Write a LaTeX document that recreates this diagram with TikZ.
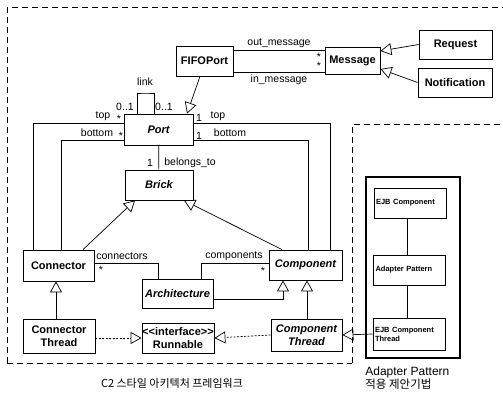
\documentclass[tikz,border=0pt]{standalone}
\usepackage{fontspec}
\setmainfont{Liberation Sans}
\newfontfamily\kr{Noto Sans CJK KR}
\usetikzlibrary{arrows.meta}
\tikzset{
cls/.style={draw,line width=0.8pt,align=center,inner sep=0pt,font=\fontsize{11}{12.5}\selectfont\bfseries},
abst/.style={cls,font=\fontsize{11}{12.5}\selectfont\bfseries\itshape},
ejbbox/.style={draw,line width=0.8pt,align=left,inner sep=2pt,text width=68pt,font=\fontsize{7.5}{9}\selectfont\bfseries},
lbl/.style={inner sep=0pt,font=\fontsize{10.5}{12}\selectfont},
gen/.style={-{Triangle[open,length=11pt,width=12pt]}},
real/.style={gen,dash pattern=on 2pt off 1.5pt},
region/.style={line width=1pt,dash pattern=on 6pt off 4pt}
}
\begin{document}
\begin{tikzpicture}[x=1pt,y=-1pt,line width=0.7pt]
\useasboundingbox (0,0) rectangle (503,395);
\draw[region] (7,363) -- (7,8) -- (503,8);
\draw[region] (7,363) -- (352,363);
\draw[region] (352,363) -- (352,125) -- (503,125);
\node[cls,minimum width=57,minimum height=30] (fifo) at (204.5,61) {FIFOPort};
\node[cls,minimum width=55,minimum height=27] (msg) at (352.5,60.5) {Message};
\node[cls,minimum width=73,minimum height=29] (req) at (455.5,44.5) {Request};
\node[cls,minimum width=74,minimum height=29] (notif) at (455,82.5) {Notification};
\node[abst,minimum width=69,minimum height=31] (port) at (158.5,129.5) {Port};
\node[abst,minimum width=68,minimum height=30] (brick) at (159,185) {Brick};
\node[cls,minimum width=71,minimum height=31] (conn) at (58.5,265.5) {Connector};
\node[cls,minimum width=72,minimum height=34] (connth) at (59,336) {Connector\\Thread};
\node[abst,minimum width=71,minimum height=29] (arch) at (177.5,293.5) {Architecture};
\node[cls,minimum width=72,minimum height=30] (run) at (178,338) {{<}{<}interface{>}{>}\\Runnable};
\node[abst,minimum width=73,minimum height=30] (comp) at (305.5,265) {Component};
\node[abst,minimum width=71,minimum height=32] (compth) at (306.5,335) {Component\\Thread};
\draw[line width=2pt] (366,177) rectangle (460,358);
\node[ejbbox,minimum height=30] (ejb) at (410,203) {EJB Component};
\node[ejbbox,minimum height=30] (adapt) at (409.5,270) {Adapter Pattern};
\node[ejbbox,minimum height=32] (ejbth) at (409,334) {EJB Component\\Thread};
\draw (fifo.east |- 0,50) -- node[lbl,above=2pt] {out\_message} (msg.west |- 0,50);
\draw (fifo.east |- 0,72) -- node[lbl,below=3pt] {in\_message} (msg.west |- 0,72);
\node[lbl] at (319,57) {*};
\node[lbl] at (319,66) {*};
\draw[gen] (req.west) -- (msg.east |- 0,51);
\draw[gen] (notif.west) -- (msg.east |- 0,69);
\draw[gen] (fifo.south -| 200,0) -- (port.north -| 187,0);
\draw (port.north -| 137,0) |- (145,93) -| (port.north -| 154,0);
\node[lbl] at (145,82) {link};
\node[lbl] at (125,107) {0..1};
\node[lbl] at (164,107) {0..1};
\draw (port.west |- 0,123) -| (conn.north -| 33,0);
\draw (port.west |- 0,140) -| (conn.north -| 61,0);
\node[lbl] at (103,116) {top};
\node[lbl] at (119,119) {*};
\node[lbl] at (97,133) {bottom};
\node[lbl] at (121,136) {*};
\draw (port.east |- 0,123) -| (comp.north -| 330,0);
\draw (port.east |- 0,140) -| (comp.north -| 308,0);
\node[lbl] at (199,118) {1};
\node[lbl] at (218,116) {top};
\node[lbl] at (199,136) {1};
\node[lbl] at (230,133) {bottom};
\draw (port) -- (brick);
\node[lbl] at (150,163) {1};
\node[lbl,anchor=west] at (164,163) {belongs\_to};
\draw[gen] (conn.north -| 83,0) -- (brick.south -| 135,0);
\draw[gen] (comp.north -| 282,0) -- (brick.south -| 184,0);
\draw (conn.east |- 0,263) -| (arch.north -| 158,0);
\node[lbl,anchor=west] at (96,256) {connectors};
\node[lbl] at (101,270) {*};
\draw (comp.west |- 0,263) -| (arch.north -| 201,0);
\node[lbl] at (234,256) {components};
\node[lbl] at (263,271) {*};
\draw[gen] (arch.east |- 0,299) -| (comp.south -| 283,0);
\draw[gen] (compth.north -| 307,0) -- (comp.south -| 307,0);
\draw[gen] (connth.north -| 56,0) -- (conn.south -| 56,0);
\draw[real] (connth.east |- 0,338) -- (run.west);
\draw[real] (compth.west) -- (run.east);
\draw[gen] (ejbth.west) -- (compth.east);
\draw (ejb.south -| 407,0) -- (adapt.north -| 407,0);
\draw (adapt.south -| 407,0) -- (ejbth.north -| 407,0);
\node[font=\fontsize{11}{12}\selectfont\kr] (cap) at (172,383) {C2 스타일 아키텍처 프레임워크};
\node[align=left,anchor=north west,inner sep=0pt,font=\fontsize{12}{13}\selectfont] (cap2) at (365,366) {Adapter Pattern\\{\kr\fontsize{11.5}{13}\selectfont 적용 제안기법}};
\end{tikzpicture}
\end{document}
